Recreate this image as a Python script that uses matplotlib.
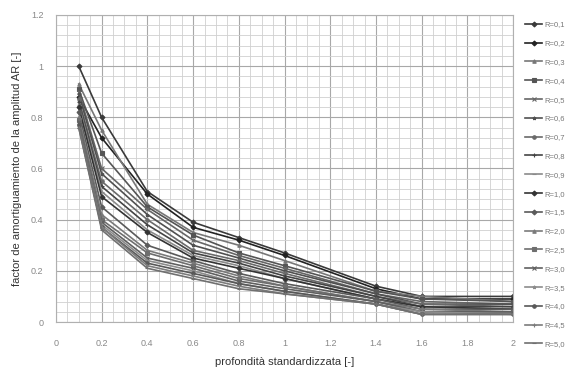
import matplotlib
matplotlib.use('Agg')
import matplotlib.pyplot as plt
from matplotlib.ticker import MultipleLocator, FuncFormatter

plt.rcParams['font.family'] = ['Liberation Sans', 'DejaVu Sans']

depth = [0.1, 0.2, 0.4, 0.6, 0.8, 1.0, 1.4, 1.6, 2.0]

labels = ['R=0,1', 'R=0,2', 'R=0,3', 'R=0,4', 'R=0,5', 'R=0,6', 'R=0,7', 'R=0,8',
          'R=0,9', 'R=1,0', 'R=1,5', 'R=2,0', 'R=2,5', 'R=3,0', 'R=3,5', 'R=4,0',
          'R=4,5', 'R=5,0']

ar_values = [
    [1.00, 0.80, 0.51, 0.39, 0.33, 0.27, 0.14, 0.10, 0.10],
    [0.88, 0.72, 0.50, 0.37, 0.32, 0.26, 0.13, 0.09, 0.09],
    [0.93, 0.75, 0.46, 0.35, 0.30, 0.24, 0.12, 0.10, 0.08],
    [0.91, 0.66, 0.45, 0.34, 0.27, 0.22, 0.12, 0.09, 0.08],
    [0.90, 0.60, 0.44, 0.32, 0.26, 0.21, 0.11, 0.08, 0.07],
    [0.89, 0.58, 0.42, 0.30, 0.25, 0.20, 0.11, 0.07, 0.07],
    [0.87, 0.55, 0.40, 0.28, 0.24, 0.19, 0.10, 0.07, 0.06],
    [0.86, 0.53, 0.38, 0.27, 0.23, 0.18, 0.10, 0.06, 0.06],
    [0.85, 0.51, 0.36, 0.26, 0.22, 0.17, 0.09, 0.06, 0.05],
    [0.84, 0.49, 0.35, 0.25, 0.21, 0.17, 0.09, 0.06, 0.05],
    [0.82, 0.45, 0.30, 0.24, 0.19, 0.15, 0.09, 0.05, 0.05],
    [0.80, 0.42, 0.28, 0.23, 0.18, 0.14, 0.08, 0.05, 0.04],
    [0.79, 0.40, 0.27, 0.22, 0.17, 0.14, 0.08, 0.04, 0.04],
    [0.78, 0.39, 0.25, 0.21, 0.16, 0.13, 0.08, 0.04, 0.04],
    [0.77, 0.38, 0.24, 0.20, 0.15, 0.12, 0.07, 0.04, 0.03],
    [0.77, 0.37, 0.23, 0.19, 0.15, 0.12, 0.07, 0.03, 0.03],
    [0.76, 0.37, 0.22, 0.18, 0.14, 0.11, 0.07, 0.03, 0.03],
    [0.76, 0.36, 0.21, 0.17, 0.13, 0.11, 0.07, 0.03, 0.03],
]

# excel-like greyscale styles
colors = ['#3a3a3a', '#222222', '#777777', '#555555', '#666666', '#505050',
          '#6a6a6a', '#444444', '#8a8a8a', '#333333', '#5a5a5a', '#7a7a7a',
          '#6e6e6e', '#606060', '#8c8c8c', '#585858', '#7c7c7c', '#707070']
markers = ['D', 'D', '^', 's', 'x', '*', 'o', '+', '_', 'D', 'D', '^',
           's', 'x', '*', 'o', '+', '_']

fig = plt.figure(figsize=(5.76, 3.74), dpi=100)
ax = fig.add_axes([0.097, 0.139, 0.794, 0.821])

for vals, lab, c, m in zip(ar_values, labels, colors, markers):
    ax.plot(depth, vals, color=c, lw=1.2, marker=m, markersize=2.5,
            markeredgewidth=0.8, label=lab)

ax.set_xlim(0, 2)
ax.set_ylim(0, 1.2)
ax.xaxis.set_major_locator(MultipleLocator(0.2))
ax.xaxis.set_minor_locator(MultipleLocator(0.05))
ax.yaxis.set_major_locator(MultipleLocator(0.2))
ax.yaxis.set_minor_locator(MultipleLocator(0.04))
fmt = FuncFormatter(lambda v, p: ('%.1f' % v).rstrip('0').rstrip('.') if v else '0')
ax.xaxis.set_major_formatter(fmt)
ax.yaxis.set_major_formatter(fmt)

ax.grid(which='major', color='#a8a8a8', lw=0.8)
ax.grid(which='minor', color='#d0d0d0', lw=0.6)
ax.set_axisbelow(True)
for s in ax.spines.values():
    s.set_color('#b0b0b0')
    s.set_linewidth(0.8)
ax.tick_params(which='both', length=0, labelsize=6.5, colors='#888888')
ax.tick_params(axis='x', pad=12)
ax.tick_params(axis='y', pad=9)

ax.set_xlabel('profondità standardizzata [-]', fontsize=8, color='#333333',
              labelpad=7)
ax.set_ylabel('factor de amortiguamiento de la amplitud AR [-]', fontsize=8,
              color='#333333', labelpad=6)

ax.legend(loc='upper left', bbox_to_anchor=(1.02, 0.99), frameon=False,
          fontsize=5.5, labelspacing=1.5, handlelength=2.2, handletextpad=0.3,
          borderaxespad=0, labelcolor='#777777')

fig.savefig('out.png', dpi=100)
